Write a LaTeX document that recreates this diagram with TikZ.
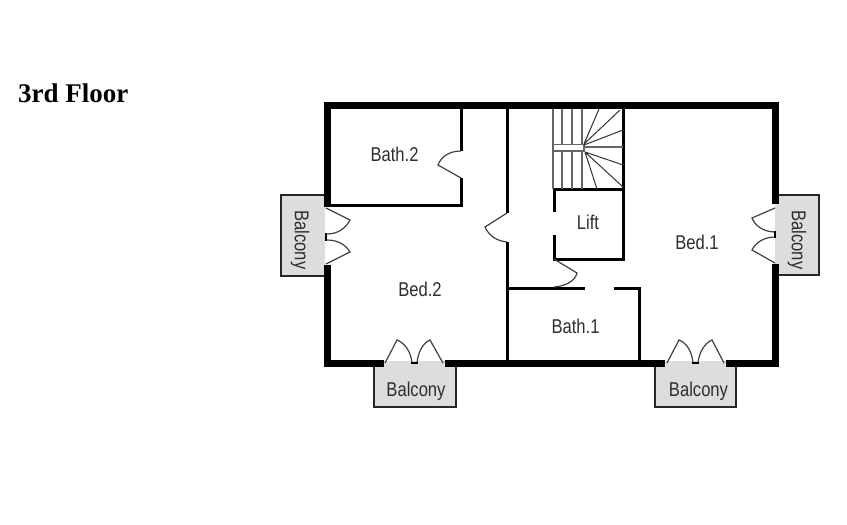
\documentclass[tikz,border=0pt]{standalone}
\usepackage{fontspec}
\newfontfamily\planfont[FakeStretch=0.83]{Liberation Sans}
\newfontfamily\titlefont{Liberation Serif}
\definecolor{balconygray}{HTML}{DCDDDE}
\definecolor{labelgray}{HTML}{2E2E2E}
\definecolor{stairgray}{HTML}{666666}
\begin{document}
\begin{tikzpicture}[x=1pt,y=-1pt,
  wall/.style={draw=black,line width=7pt,line join=miter},
  inwall/.style={draw=black,line width=3pt,line join=miter},
  door/.style={draw=black!75,line width=1.2pt},
  jamb/.style={draw=black,line width=2pt},
  stair/.style={draw=stairgray,line width=1.2pt},
  fan/.style={draw=black!80,line width=1pt},
  balcony/.style={draw=black!85,line width=2.2pt,fill=balconygray},
  room/.style={font=\planfont\fontsize{20}{22}\selectfont,text=labelgray,inner sep=0pt}]
  \useasboundingbox (0,0) rectangle (847,525);

  \node[font=\titlefont\fontsize{27}{30}\selectfont\bfseries,inner sep=0pt,anchor=base west] (title) at (18,102){3rd Floor};

  % balconies
  \filldraw[balcony] (325,195)--(281,195)--(281,276)--(325,276);
  \filldraw[balcony] (775,195)--(819,195)--(819,275)--(775,275);
  \filldraw[balcony] (374,362)--(374,407)--(456,407)--(456,362);
  \filldraw[balcony] (655,362)--(655,407)--(736,407)--(736,362);
  \fill[balconygray] (375,361)rectangle(455,364);
  \fill[balconygray] (656,361)rectangle(735,364);

  % outer walls
  \draw[wall] (327,207)--(327,105.5)--(775,105.5)--(775,204);
  \draw[wall] (327,265)--(327,363.5)--(384,363.5);
  \draw[wall] (445,363.5)--(665,363.5);
  \draw[wall] (726,363.5)--(775,363.5)--(775,264);

  % inner walls
  \draw[inwall] (461,109)--(461,151);
  \draw[inwall] (461,178)--(461,205)--(331,205);
  \draw[inwall] (507,109)--(507,213);
  \draw[inwall] (507,242)--(507,360);
  \draw[inwall] (554,212)--(554,189.5)--(623,189.5);
  \draw[inwall] (623,109)--(623,259)--(554,259)--(554,235);
  \draw[inwall] (507,288)--(585,288);
  \draw[inwall] (614,288)--(639,288)--(639,360);

  % stairs
  \draw[stair] (553,109)--(553,189);
  \draw[stair] (562,109)--(562,144) (572,109)--(572,144) (582,109)--(582,144);
  \draw[stair] (562,151)--(562,189) (572,151)--(572,189) (582,151)--(582,189);
  \draw[stair] (553,144.5) rectangle (584,151);
  \draw[stair] (584,147)--(623,147);
  \draw[fan] (584,144)--(599,109) (584,144)--(620,110) (584,145)--(623,130);
  \draw[fan] (585,152)--(623,165) (585,152)--(623,187) (585,152)--(597,189);

  % inner doors
  \draw[door] (461,151) .. controls (449,151) and (441,157) .. (438,165)--(461,178);
  \draw[door] (507,213)--(485,227) .. controls (489,236) and (497,241) .. (507,242);
  \draw[door] (554,259)--(577,273) .. controls (575,281) and (566,286) .. (554,287);

  % balcony doors, left
  \draw[door] (326,208)--(350,220) .. controls (346,228) and (338,234) .. (327,234);
  \draw[door] (327,240) .. controls (338,240) and (346,245) .. (350,252)--(326,264);
  \draw[jamb] (326,233)--(326,241);
  % balcony doors, right
  \draw[door] (775,208)--(752,218) .. controls (755,226) and (764,232) .. (775,232);
  \draw[door] (775,237) .. controls (764,237) and (755,243) .. (752,250)--(775,263);
  \draw[jamb] (775,231)--(775,238);
  % balcony doors, bottom
  \draw[door] (385,363)--(397,340) .. controls (405,343) and (411,352) .. (412,363);
  \draw[door] (417,363) .. controls (418,352) and (423,343) .. (430,340)--(443,363);
  \draw[jamb] (411,363)--(418,363);
  \draw[door] (667,363)--(679,340) .. controls (687,343) and (692,352) .. (693,363);
  \draw[door] (698,363) .. controls (699,352) and (705,343) .. (712,340)--(724,363);
  \draw[jamb] (692,363)--(699,363);

  % rooms
  \node[room] (bath2) at (394.5,154){Bath.2};
  \node[room] (lift) at (588,222){Lift};
  \node[room] (bed1) at (697,242){Bed.1};
  \node[room] (bed2) at (420,289){Bed.2};
  \node[room] (bath1) at (575.5,326){Bath.1};
  \node[room] (balconyb) at (416,391){Balcony};
  \node[room] (balconyc) at (698.5,391){Balcony};
  \node[room,rotate=-90] (balconyl) at (300,240){Balcony};
  \node[room,rotate=-90] (balconyr) at (797,240){Balcony};
\end{tikzpicture}
\end{document}
